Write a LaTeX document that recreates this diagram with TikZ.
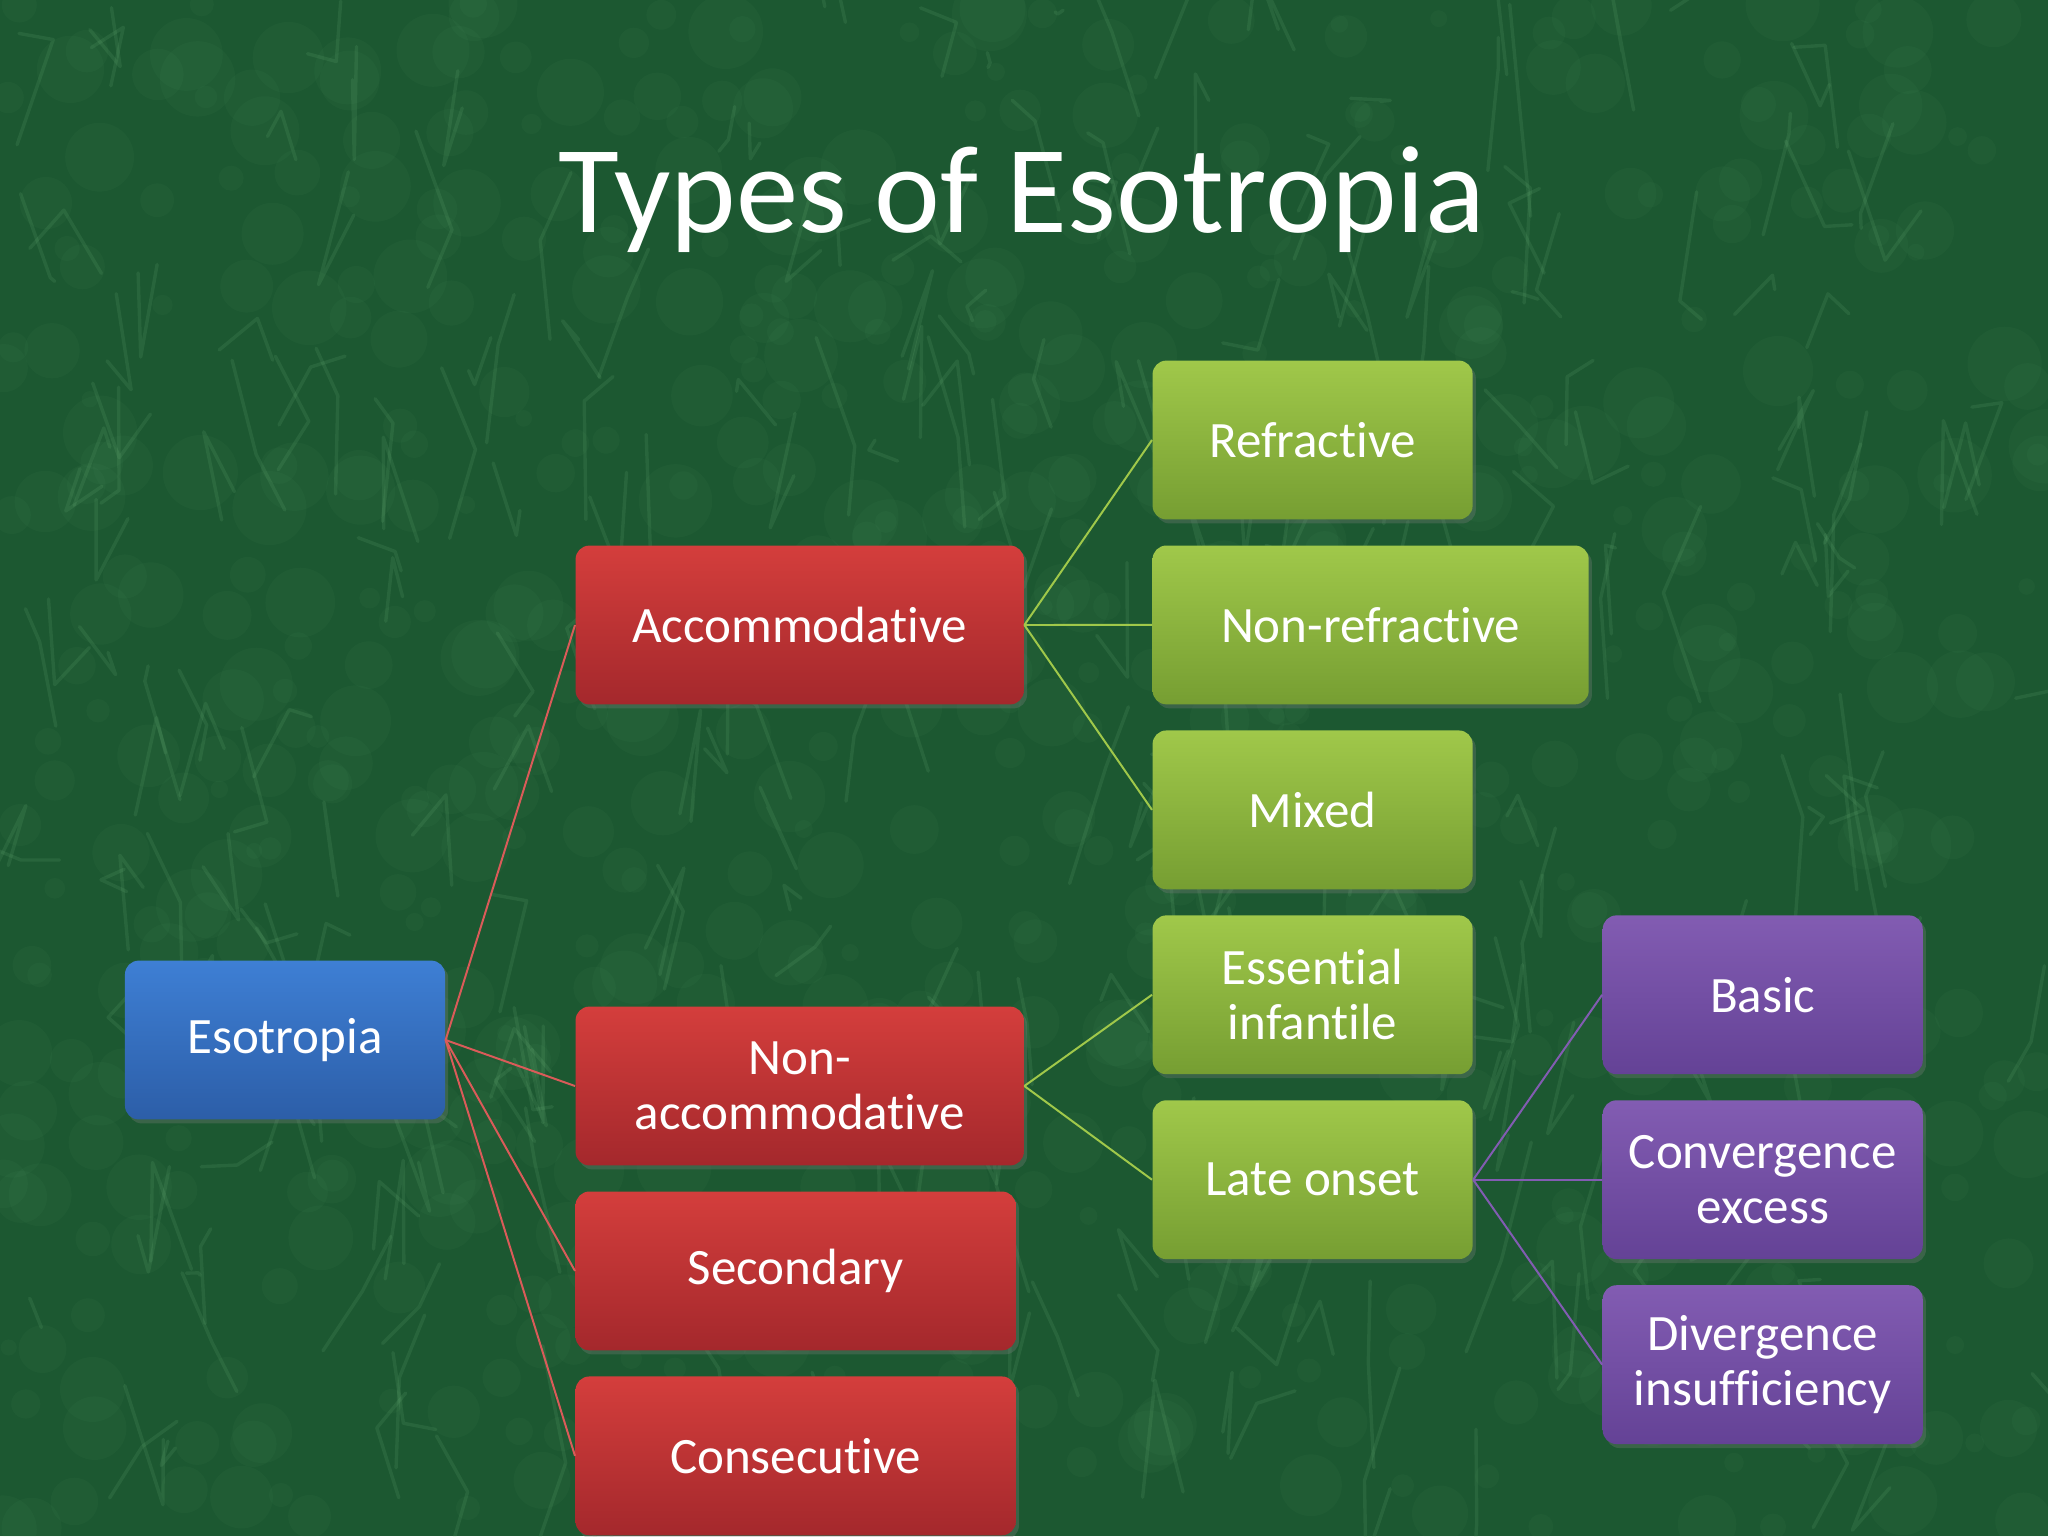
\documentclass[tikz,border=0pt]{standalone}
\usepackage{fontspec}
\setmainfont{Carlito}[Ligatures=NoCommon]
\usetikzlibrary{positioning, shadows}
\definecolor{slidebg}{RGB}{28,88,49}
\definecolor{veincol}{RGB}{130,200,140}
\definecolor{blueA}{RGB}{62,127,212}
\definecolor{blueB}{RGB}{44,94,168}
\definecolor{redA}{RGB}{212,62,60}
\definecolor{redB}{RGB}{164,40,44}
\definecolor{greenA}{RGB}{160,200,74}
\definecolor{greenB}{RGB}{118,158,50}
\definecolor{purpA}{RGB}{130,92,178}
\definecolor{purpB}{RGB}{100,66,150}
\tikzset{node distance=0.31cm, % Gap between two stacked boxes
box/.style={ % Common look of every box
rounded corners=0.17cm,
minimum height=1.97cm,
inner sep=0pt,
align=center,
text=white,
font=\fontsize{18}{19.5}\selectfont,
drop shadow={opacity=0.3, shadow xshift=0.04cm, shadow yshift=-0.05cm}},
rootbox/.style={box, minimum width=3.97cm, top color=blueA, bottom color=blueB},
redbox/.style={box, top color=redA, bottom color=redB},
greenbox/.style={box, minimum width=3.97cm, top color=greenA, bottom color=greenB},
purplebox/.style={box, minimum width=3.97cm, top color=purpA, bottom color=purpB},
link/.style={line width=0.7pt}, % Thin lines between levels
blot/.style={fill=veincol, opacity=0.04}, % Mottled marble background
vein/.style={draw=veincol, opacity=0.12, line width=1.2pt, line cap=round, line join=round}}

\begin{document}
\begin{tikzpicture}[x=0.0124023cm, y=-0.0124023cm]

    % slide background
    \fill[slidebg] (0,0) rectangle (2048,1536);
    \useasboundingbox (0,0) rectangle (2048,1536);
    \pgfmathsetseed{11}
    \foreach \i in {1,...,700}
        \fill[blot] ({rnd*2048},{rnd*1536}) circle ({8+rnd*30});
    \foreach \i in {1,...,300}
        \draw[vein] ({rnd*2048},{rnd*1536}) -- ++({rand*40},{rand*120}) -- ++({rand*40},{rand*120});

    \node[font=\fontsize{44}{48}\selectfont, text=white, anchor=base] (title) at (1022,232) {Types of Esotropia};

    \node[rootbox] (eso) at (285,1040) {Esotropia};

    \node[redbox, minimum width=5.56cm, anchor=west] (acc) at (575,625) {Accommodative};
    \node[redbox, minimum width=5.56cm, anchor=west] (nacc) at (575,1086) {Non-\\accommodative};
    \node[redbox, minimum width=5.46cm, below=of nacc.south west, anchor=north west] (sec) {Secondary};
    \node[redbox, minimum width=5.46cm, below=of sec.south west, anchor=north west] (cons) {Consecutive};

    \node[greenbox, anchor=west] (refr) at (1152,440) {Refractive};
    \node[greenbox, minimum width=5.41cm, below=of refr.south west, anchor=north west] (nrefr) {Non-refractive};
    \node[greenbox, below=of nrefr.south west, anchor=north west] (mix) {Mixed};
    \node[greenbox, below=of mix.south west, anchor=north west] (ess) {Essential\\infantile};
    \node[greenbox, below=of ess.south west, anchor=north west] (late) {Late onset};

    \node[purplebox, right=1.6cm of ess] (basic) {Basic};
    \node[purplebox, right=1.6cm of late] (conv) {Convergence\\excess};
    \node[purplebox, below=of conv] (div) {Divergence\\insufficiency};

    \foreach \t in {acc, nacc, sec, cons}
        \draw[link, draw=redA!85!white] (eso.east) -- (\t.west);
    \foreach \t in {refr, nrefr, mix}
        \draw[link, draw=greenA] (acc.east) -- (\t.west);
    \foreach \t in {ess, late}
        \draw[link, draw=greenA] (nacc.east) -- (\t.west);
    \foreach \t in {basic, conv, div}
        \draw[link, draw=purpA] (late.east) -- (\t.west);

\end{tikzpicture}
\end{document}
